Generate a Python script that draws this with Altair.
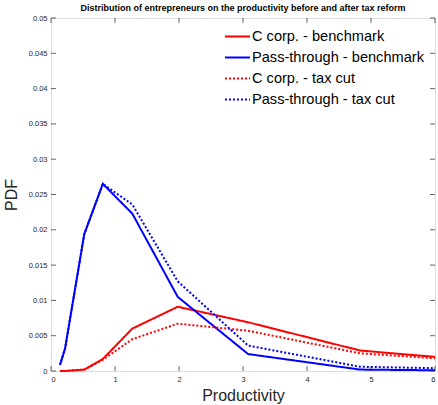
import altair as alt
import pandas as pd

# ---- data ----
x_pts = [0.14, 0.22, 0.52, 0.81, 1.27, 1.98, 3.08, 4.83, 6.0]
c_bench = [0.0, 0.0, 0.0002, 0.0017, 0.0060, 0.0091, 0.0069, 0.0029, 0.0020]
p_bench = [0.00085, 0.0032, 0.0194, 0.0265, 0.0223, 0.0105, 0.0024, 0.0002, 0.0001]
c_tax = [0.0, 0.0, 0.0002, 0.0016, 0.0045, 0.0067, 0.0057, 0.0025, 0.0018]
p_tax = [0.00085, 0.0032, 0.0194, 0.0265, 0.0236, 0.0127, 0.0036, 0.0006, 0.0004]

series_names = ["C corp. - benchmark", "Pass-through - benchmark",
                "C corp. - tax cut", "Pass-through - tax cut"]
series_colors = ["#ff0000", "#0000ff", "#ff0000", "#0000ff"]
series_dash = [[1, 0], [1, 0], [2, 2], [2, 2]]

x_ticks = [0, 1, 2, 3, 4, 5, 6]
y_ticks = [0, 0.005, 0.01, 0.015, 0.02, 0.025, 0.03, 0.035, 0.04, 0.045, 0.05]

rows = []
for name, vals in zip(series_names, [c_bench, p_bench, c_tax, p_tax]):
    for i, (x, y) in enumerate(zip(x_pts, vals)):
        rows.append({"series": name, "x": x, "y": y, "order": i})
df = pd.DataFrame(rows)
xt = pd.DataFrame({"x": x_ticks})
yt = pd.DataFrame({"y": y_ticks})

W, H = 384, 353
FONT = "Liberation Sans"
AX = "#262626"

xscale = alt.Scale(domain=[0, 6], nice=False, zero=False)
yscale = alt.Scale(domain=[0, 0.05], nice=False)

xaxis = alt.Axis(values=x_ticks, format="~g", domain=False, ticks=False, grid=False,
                 labelFontSize=7.5, labelColor=AX, labelPadding=4, labelOverlap=False,
                 titleFontSize=16, titleFont=FONT, titleFontWeight="normal",
                 titleColor=AX, titlePadding=5, labelFont=FONT)
yaxis = alt.Axis(values=y_ticks, format="~g", domain=False, ticks=False, grid=False,
                 labelFontSize=7.5, labelColor=AX, labelPadding=4, labelOverlap=False,
                 titleFontSize=16, titleFont=FONT, titleFontWeight="normal",
                 titleColor=AX, titlePadding=9, labelFont=FONT)

X = lambda f: alt.X(f, scale=xscale, axis=xaxis, title="Productivity")
Y = lambda f: alt.Y(f, scale=yscale, axis=yaxis, title="PDF")

lines = alt.Chart(df).mark_line(strokeWidth=2).encode(
    x=X("x:Q"),
    y=Y("y:Q"),
    color=alt.Color("series:N", sort=series_names,
                    scale=alt.Scale(domain=series_names, range=series_colors),
                    legend=alt.Legend(title=None, orient="none", legendX=173, legendY=5,
                                      symbolType="stroke", symbolSize=625, symbolStrokeWidth=2,
                                      labelFontSize=14.6, labelFont=FONT, labelColor="#000000",
                                      labelLimit=400,
                                      rowPadding=-6, symbolOffset=0, labelOffset=1)),
    strokeDash=alt.StrokeDash("series:N", sort=series_names,
                              scale=alt.Scale(domain=series_names, range=series_dash),
                              legend=None),
    order="order:Q",
)

tb = alt.Chart(xt).mark_tick(orient="vertical", size=5, thickness=1, color=AX).encode(
    x=X("x:Q"), y=alt.value(H - 2.5))
tt = alt.Chart(xt).mark_tick(orient="vertical", size=5, thickness=1, color=AX).encode(
    x=X("x:Q"), y=alt.value(2.5))
tl = alt.Chart(yt).mark_tick(orient="horizontal", size=5, thickness=1, color=AX).encode(
    y=Y("y:Q"), x=alt.value(2.5))
tr = alt.Chart(yt).mark_tick(orient="horizontal", size=5, thickness=1, color=AX).encode(
    y=Y("y:Q"), x=alt.value(W - 2.5))

chart = alt.layer(lines, tb, tt, tl, tr).properties(
    width=W, height=H,
    title=alt.Title("Distribution of entrepreneurs on the productivity before and after tax reform",
                    fontSize=9, font=FONT, fontWeight="bold", color="#000000", offset=1),
    autosize=alt.AutoSizeParams(type="none"),
    padding={"left": 51, "top": 18, "right": 3, "bottom": 34},
    background="white",
).configure_view(stroke=AX, strokeWidth=1).configure(font=FONT)

chart.save("out.html", embed_options={"renderer": "svg", "actions": False})
